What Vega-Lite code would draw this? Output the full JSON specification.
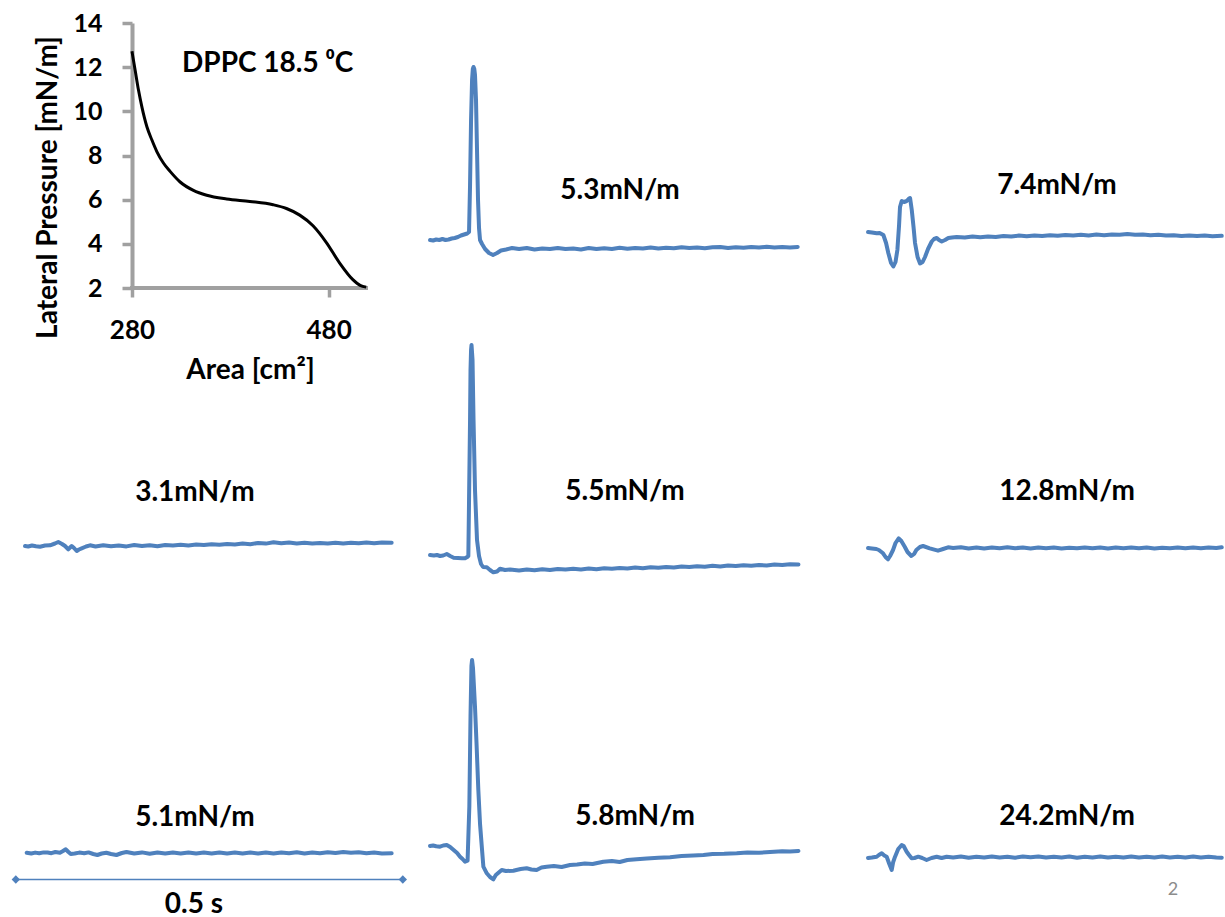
{
  "$schema": "https://vega.github.io/schema/vega-lite/v6.json",
  "background": "white",
  "padding": {"left": 9, "top": 11, "right": 0, "bottom": 0},
  "columns": 3,
  "bounds": "flush",
  "align": "each",
  "spacing": {"row": 10, "column": 16},
  "config": {"view": {"stroke": null}, "font": "Lato"},
  "datasets": {
    "iso": [
      {"area": 280, "pressure": 12.72}, {"area": 283.3, "pressure": 11.85}, {"area": 286.7, "pressure": 10.95},
      {"area": 290.1, "pressure": 10.2}, {"area": 295.2, "pressure": 9.3}, {"area": 300.3, "pressure": 8.7},
      {"area": 305.3, "pressure": 8.18}, {"area": 312, "pressure": 7.66}, {"area": 318.8, "pressure": 7.28},
      {"area": 329, "pressure": 6.8}, {"area": 342.5, "pressure": 6.42}, {"area": 356, "pressure": 6.2},
      {"area": 376.3, "pressure": 6.03}, {"area": 399.9, "pressure": 5.92}, {"area": 423.5, "pressure": 5.77},
      {"area": 437.1, "pressure": 5.6}, {"area": 450.6, "pressure": 5.3}, {"area": 464.1, "pressure": 4.82},
      {"area": 477.7, "pressure": 4.06}, {"area": 491.2, "pressure": 3.13}, {"area": 504.6, "pressure": 2.38},
      {"area": 512, "pressure": 2.12}, {"area": 518.2, "pressure": 2.04}
    ],
    "t53": [
      {"t":0,"v":0.07},{"t":4,"v":0.065},{"t":8,"v":0.075},{"t":12,"v":0.07},{"t":16,"v":0.08},{"t":20,"v":0.07},
      {"t":24,"v":0.075},{"t":28,"v":0.085},{"t":32,"v":0.09},{"t":36,"v":0.1},{"t":40,"v":0.115},{"t":44,"v":0.125},
      {"t":48,"v":0.135},{"t":50.4,"v":0.15},{"t":51.7,"v":0.62},{"t":53,"v":1.27},{"t":54.3,"v":1.67},{"t":55.3,"v":1.78},
      {"t":56.2,"v":1.8},{"t":57.2,"v":1.78},{"t":58.1,"v":1.72},{"t":59.4,"v":1.47},{"t":60.7,"v":0.97},{"t":62,"v":0.47},
      {"t":63.3,"v":0.19},{"t":64.6,"v":0.07},{"t":67.2,"v":0.03},{"t":71.1,"v":-0.02},{"t":76.2,"v":-0.06},{"t":81.4,"v":-0.08},
      {"t":86.6,"v":-0.06},{"t":91.7,"v":-0.035},{"t":98.2,"v":-0.025},{"t":105.9,"v":-0.01},
      {"t":115,"v":-0.02},{"t":125,"v":-0.01},{"t":135,"v":-0.025},{"t":145,"v":-0.015},{"t":155,"v":-0.02},{"t":165,"v":-0.01},
      {"t":175,"v":-0.02},{"t":185,"v":-0.015},{"t":195,"v":-0.025},{"t":205,"v":-0.01},{"t":215,"v":-0.02},{"t":225,"v":-0.012},
      {"t":235,"v":-0.02},{"t":245,"v":-0.008},{"t":255,"v":-0.018},{"t":265,"v":-0.01},{"t":275,"v":-0.015},{"t":285,"v":-0.005},
      {"t":295,"v":-0.015},{"t":305,"v":-0.008},{"t":315,"v":-0.012},{"t":325,"v":-0.002},{"t":335,"v":-0.01},{"t":345,"v":-0.004},
      {"t":355,"v":-0.012},{"t":365,"v":-0.003},{"t":375,"v":0.0},{"t":385,"v":-0.01},{"t":395,"v":-0.002},{"t":405,"v":-0.008},
      {"t":415,"v":0.0},{"t":425,"v":-0.006},{"t":435,"v":0.002},{"t":445,"v":-0.004},{"t":455,"v":-0.001},{"t":465,"v":-0.005},
      {"t":475,"v":0.0}
    ],
    "t74": [
      {"t":0,"v":0.04},{"t":5,"v":0.035},{"t":11.2,"v":0.027},{"t":15,"v":0.03},{"t":19.8,"v":0.01},{"t":23.3,"v":-0.07},
      {"t":26.2,"v":-0.17},{"t":29.7,"v":-0.27},{"t":32.7,"v":-0.305},{"t":35.5,"v":-0.26},{"t":37.9,"v":-0.14},{"t":40.1,"v":0.11},
      {"t":41.3,"v":0.29},{"t":43.5,"v":0.35},{"t":46.5,"v":0.34},{"t":50,"v":0.35},{"t":52.3,"v":0.37},{"t":54.3,"v":0.38},
      {"t":56.5,"v":0.26},{"t":58.9,"v":0.08},{"t":60.7,"v":-0.07},{"t":64,"v":-0.21},{"t":67.2,"v":-0.275},{"t":70.5,"v":-0.26},
      {"t":73.6,"v":-0.21},{"t":77.5,"v":-0.13},{"t":82.3,"v":-0.055},{"t":85.3,"v":-0.03},{"t":88.8,"v":-0.02},{"t":91.7,"v":-0.04},
      {"t":95.2,"v":-0.055},{"t":99.5,"v":-0.04},{"t":103.7,"v":-0.02},{"t":108.5,"v":-0.015},{"t":114.6,"v":-0.01},
      {"t":125,"v":-0.015},{"t":135,"v":-0.005},{"t":145,"v":-0.012},{"t":155,"v":-0.004},{"t":165,"v":-0.01},{"t":175,"v":0.0},
      {"t":185,"v":-0.006},{"t":195,"v":0.004},{"t":205,"v":-0.002},{"t":215,"v":0.006},{"t":225,"v":0.0},{"t":235,"v":0.008},
      {"t":245,"v":0.002},{"t":255,"v":0.01},{"t":265,"v":0.004},{"t":275,"v":0.012},{"t":285,"v":0.006},{"t":295,"v":0.014},
      {"t":305,"v":0.008},{"t":315,"v":0.016},{"t":325,"v":0.012},{"t":335,"v":0.02},{"t":345,"v":0.012},{"t":355,"v":0.016},
      {"t":365,"v":0.008},{"t":375,"v":0.012},{"t":385,"v":0.004},{"t":395,"v":0.008},{"t":405,"v":0.0},{"t":415,"v":0.006},
      {"t":425,"v":0.0},{"t":435,"v":0.004},{"t":445,"v":-0.002},{"t":457,"v":0.002}
    ],
    "t31": [
      {"t":3.9,"v":0.0},{"t":8,"v":-0.005},{"t":12.9,"v":0.005},{"t":18,"v":-0.003},{"t":23.3,"v":-0.007},{"t":29.7,"v":0.005},
      {"t":36.2,"v":0.007},{"t":42.6,"v":0.025},{"t":46.9,"v":0.04},{"t":51.7,"v":0.02},{"t":55.6,"v":0.0},{"t":59.8,"v":-0.033},
      {"t":64.2,"v":0.0},{"t":67.2,"v":-0.02},{"t":70.7,"v":-0.05},{"t":73.6,"v":-0.035},{"t":77.1,"v":-0.023},{"t":82.7,"v":-0.005},
      {"t":87.9,"v":0.007},{"t":95,"v":-0.005},{"t":105,"v":0.008},{"t":115,"v":-0.002},{"t":125,"v":0.006},{"t":135,"v":-0.004},
      {"t":145,"v":0.01},{"t":155,"v":0.0},{"t":165,"v":0.008},{"t":175,"v":-0.002},{"t":185,"v":0.01},{"t":195,"v":0.004},
      {"t":205,"v":0.012},{"t":215,"v":0.006},{"t":225,"v":0.014},{"t":235,"v":0.01},{"t":245,"v":0.018},{"t":255,"v":0.012},
      {"t":265,"v":0.02},{"t":275,"v":0.015},{"t":285,"v":0.024},{"t":295,"v":0.018},{"t":305,"v":0.03},{"t":315,"v":0.024},
      {"t":325,"v":0.038},{"t":335,"v":0.028},{"t":345,"v":0.034},{"t":355,"v":0.026},{"t":365,"v":0.032},{"t":375,"v":0.024},
      {"t":385,"v":0.03},{"t":395,"v":0.025},{"t":405,"v":0.033},{"t":415,"v":0.026},{"t":425,"v":0.032},{"t":435,"v":0.027},
      {"t":445,"v":0.035},{"t":455,"v":0.028},{"t":465,"v":0.036},{"t":477.6,"v":0.033}
    ],
    "t55": [
      {"t":0,"v":0.15},{"t":5,"v":0.145},{"t":9,"v":0.15},{"t":13,"v":0.14},{"t":17,"v":0.145},{"t":21.6,"v":0.16},
      {"t":26,"v":0.14},{"t":30.5,"v":0.123},{"t":36,"v":0.12},{"t":41,"v":0.118},{"t":45.2,"v":0.117},{"t":48.7,"v":0.133},
      {"t":49.5,"v":0.14},{"t":50.4,"v":0.7},{"t":51.7,"v":1.5},{"t":52.3,"v":2.0},{"t":53,"v":2.2},{"t":53.6,"v":2.25},
      {"t":54.9,"v":2.1},{"t":56.2,"v":1.5},{"t":58.1,"v":0.8},{"t":60.7,"v":0.3},{"t":63.3,"v":0.14},{"t":65.9,"v":0.06},
      {"t":68.5,"v":0.03},{"t":73.3,"v":0.027},{"t":77.5,"v":0.0},{"t":81.8,"v":-0.023},{"t":86.6,"v":-0.015},{"t":90.4,"v":0.013},
      {"t":96.9,"v":0.0},{"t":103.4,"v":0.005},
      {"t":115,"v":-0.005},{"t":125,"v":0.004},{"t":135,"v":-0.002},{"t":145,"v":0.008},{"t":155,"v":0.0},{"t":165,"v":0.01},
      {"t":175,"v":0.004},{"t":185,"v":0.012},{"t":195,"v":0.006},{"t":205,"v":0.014},{"t":215,"v":0.008},{"t":225,"v":0.018},
      {"t":235,"v":0.012},{"t":245,"v":0.02},{"t":255,"v":0.016},{"t":265,"v":0.024},{"t":275,"v":0.018},{"t":285,"v":0.028},
      {"t":295,"v":0.022},{"t":305,"v":0.03},{"t":315,"v":0.025},{"t":325,"v":0.034},{"t":335,"v":0.03},{"t":345,"v":0.038},
      {"t":355,"v":0.032},{"t":365,"v":0.042},{"t":375,"v":0.036},{"t":385,"v":0.044},{"t":395,"v":0.04},{"t":405,"v":0.048},
      {"t":415,"v":0.042},{"t":425,"v":0.05},{"t":435,"v":0.046},{"t":445,"v":0.054},{"t":455,"v":0.05},{"t":465,"v":0.058},
      {"t":476,"v":0.055}
    ],
    "t128": [
      {"t":0,"v":0.0},{"t":5,"v":-0.005},{"t":10.7,"v":-0.01},{"t":14,"v":-0.02},{"t":19.4,"v":-0.053},{"t":22.6,"v":-0.09},
      {"t":25.8,"v":-0.113},{"t":28.5,"v":-0.08},{"t":32.3,"v":-0.02},{"t":35.5,"v":0.05},{"t":39.6,"v":0.097},{"t":43,"v":0.07},
      {"t":47.4,"v":0.013},{"t":51,"v":-0.04},{"t":56,"v":-0.08},{"t":59.5,"v":-0.06},{"t":62.4,"v":-0.02},{"t":67,"v":0.01},
      {"t":71.1,"v":0.02},{"t":79.7,"v":-0.003},{"t":90.4,"v":-0.027},{"t":97,"v":-0.01},{"t":103.4,"v":0.007},
      {"t":110,"v":0.0},{"t":120,"v":0.008},{"t":130,"v":-0.004},{"t":140,"v":0.006},{"t":150,"v":-0.006},{"t":160,"v":0.004},
      {"t":170,"v":-0.003},{"t":180,"v":0.007},{"t":190,"v":-0.002},{"t":200,"v":0.005},{"t":210,"v":-0.005},{"t":220,"v":0.004},
      {"t":230,"v":-0.002},{"t":240,"v":0.006},{"t":250,"v":-0.004},{"t":260,"v":0.003},{"t":270,"v":-0.003},{"t":280,"v":0.005},
      {"t":290,"v":-0.002},{"t":300,"v":0.006},{"t":310,"v":-0.004},{"t":320,"v":0.004},{"t":330,"v":-0.002},{"t":340,"v":0.005},
      {"t":350,"v":-0.003},{"t":360,"v":0.004},{"t":370,"v":-0.004},{"t":380,"v":0.003},{"t":390,"v":-0.002},{"t":400,"v":0.005},
      {"t":410,"v":-0.003},{"t":420,"v":0.004},{"t":430,"v":-0.002},{"t":440,"v":0.005},{"t":450,"v":0.0},{"t":457,"v":0.007}
    ],
    "t51": [
      {"t":6.1,"v":0.003},{"t":12,"v":-0.005},{"t":17,"v":0.004},{"t":22.3,"v":-0.003},{"t":28,"v":0.006},{"t":33,"v":0.005},
      {"t":38,"v":-0.002},{"t":43.1,"v":0.01},{"t":49,"v":0.003},{"t":53,"v":0.02},{"t":56.6,"v":0.037},{"t":60,"v":0.01},
      {"t":63,"v":-0.01},{"t":68,"v":-0.005},{"t":74,"v":0.004},{"t":80.4,"v":-0.003},{"t":86,"v":0.006},{"t":92,"v":-0.01},
      {"t":97.4,"v":-0.02},{"t":103,"v":-0.005},{"t":109,"v":0.003},{"t":115,"v":-0.01},{"t":122,"v":-0.02},{"t":129,"v":0.0},
      {"t":135,"v":0.01},{"t":145,"v":-0.005},{"t":155,"v":0.006},{"t":165,"v":-0.008},{"t":175,"v":0.004},{"t":185,"v":-0.006},
      {"t":195,"v":0.005},{"t":205,"v":-0.004},{"t":215,"v":0.006},{"t":225,"v":-0.006},{"t":235,"v":0.004},{"t":245,"v":-0.005},
      {"t":255,"v":0.006},{"t":265,"v":-0.004},{"t":275,"v":0.005},{"t":285,"v":-0.006},{"t":295,"v":0.004},{"t":305,"v":-0.004},
      {"t":315,"v":0.006},{"t":325,"v":-0.005},{"t":335,"v":0.005},{"t":345,"v":-0.003},{"t":355,"v":0.007},{"t":365,"v":-0.004},
      {"t":375,"v":0.006},{"t":385,"v":-0.002},{"t":395,"v":0.008},{"t":405,"v":0.0},{"t":415,"v":0.01},{"t":425,"v":0.002},
      {"t":435,"v":0.008},{"t":445,"v":-0.002},{"t":455,"v":0.006},{"t":465,"v":-0.004},{"t":477.6,"v":-0.003}
    ],
    "t58": [
      {"t":0,"v":0.0},{"t":4,"v":0.005},{"t":8,"v":-0.003},{"t":12.9,"v":-0.007},{"t":17,"v":0.005},{"t":21.6,"v":0.01},
      {"t":26,"v":-0.01},{"t":30.5,"v":-0.04},{"t":35,"v":-0.07},{"t":38.8,"v":-0.107},{"t":42,"v":-0.13},{"t":45.2,"v":-0.157},
      {"t":48.5,"v":-0.147},{"t":50.8,"v":0.4},{"t":52.3,"v":1.3},{"t":53.5,"v":1.8},{"t":54.3,"v":1.86},{"t":55.5,"v":1.78},
      {"t":58.1,"v":1.39},{"t":60.2,"v":1.0},{"t":62.4,"v":0.56},{"t":64.6,"v":0.22},{"t":66.8,"v":0.0},{"t":68.9,"v":-0.207},
      {"t":73.3,"v":-0.273},{"t":77.5,"v":-0.31},{"t":81.8,"v":-0.333},{"t":85,"v":-0.29},{"t":92.6,"v":-0.24},{"t":98,"v":-0.25},
      {"t":107.6,"v":-0.247},{"t":117,"v":-0.23},{"t":124.8,"v":-0.223},{"t":131,"v":-0.235},{"t":137.7,"v":-0.24},{"t":144,"v":-0.215},
      {"t":150.7,"v":-0.207},{"t":160,"v":-0.2},{"t":170,"v":-0.21},{"t":180.9,"v":-0.19},{"t":190,"v":-0.185},{"t":200,"v":-0.175},
      {"t":210,"v":-0.18},{"t":223.9,"v":-0.157},{"t":235,"v":-0.15},{"t":245,"v":-0.16},{"t":255,"v":-0.14},{"t":266.9,"v":-0.133},
      {"t":280,"v":-0.125},{"t":295,"v":-0.118},{"t":310.1,"v":-0.113},{"t":325,"v":-0.1},{"t":340,"v":-0.095},{"t":353.2,"v":-0.09},
      {"t":365,"v":-0.08},{"t":380,"v":-0.078},{"t":396.2,"v":-0.073},{"t":410,"v":-0.065},{"t":425,"v":-0.068},{"t":439.3,"v":-0.06},
      {"t":455,"v":-0.052},{"t":465,"v":-0.055},{"t":476,"v":-0.05}
    ],
    "t242": [
      {"t":0,"v":-0.01},{"t":5,"v":-0.005},{"t":11.2,"v":0.003},{"t":14,"v":0.02},{"t":17.7,"v":0.037},{"t":21,"v":0.015},
      {"t":24.1,"v":0.003},{"t":27.5,"v":-0.07},{"t":30.6,"v":-0.13},{"t":32.5,"v":-0.05},{"t":34.9,"v":0.003},{"t":39,"v":0.08},
      {"t":43.5,"v":0.12},{"t":46,"v":0.11},{"t":49.9,"v":0.053},{"t":53,"v":0.02},{"t":56.3,"v":-0.013},{"t":60,"v":-0.01},
      {"t":64.9,"v":0.003},{"t":70,"v":-0.01},{"t":75.7,"v":-0.03},{"t":82,"v":-0.01},{"t":88.6,"v":0.003},{"t":95,"v":-0.01},
      {"t":101.5,"v":0.003},{"t":110,"v":-0.006},{"t":120,"v":0.004},{"t":130,"v":-0.008},{"t":140,"v":0.003},{"t":150,"v":-0.004},
      {"t":160,"v":0.006},{"t":170,"v":-0.005},{"t":180,"v":0.002},{"t":190,"v":-0.007},{"t":200,"v":0.004},{"t":210,"v":-0.003},
      {"t":220,"v":0.005},{"t":230,"v":-0.006},{"t":240,"v":0.002},{"t":250,"v":-0.005},{"t":260,"v":0.004},{"t":270,"v":-0.007},
      {"t":280,"v":0.003},{"t":290,"v":-0.004},{"t":300,"v":0.005},{"t":310,"v":-0.006},{"t":320,"v":0.002},{"t":330,"v":-0.005},
      {"t":340,"v":0.004},{"t":350,"v":-0.006},{"t":360,"v":0.003},{"t":370,"v":-0.004},{"t":380,"v":0.005},{"t":390,"v":-0.006},
      {"t":400,"v":0.002},{"t":410,"v":-0.005},{"t":420,"v":0.004},{"t":430,"v":-0.006},{"t":440,"v":0.003},{"t":450,"v":-0.004},
      {"t":457,"v":-0.007}
    ]
  },
  "concat": [
    {
      "width": 359,
      "height": 265,
      "encoding": {
        "x": {"field": "area", "type": "quantitative",
          "scale": {"domain": [155, 520], "nice": false, "zero": false},
          "axis": {"values": [280, 480], "domain": false, "grid": false, "tickSize": 9, "tickWidth": 3.5, "tickColor": "#a0a0a0",
            "labelFont": "Lato", "labelFontSize": 26, "labelFontWeight": "bold", "labelColor": "black", "labelPadding": 20, "labelFlush": false,
            "title": "Area [cm²]", "titleFont": "Lato", "titleFontSize": 28, "titleFontWeight": "bold", "titleColor": "black",
            "titleX": 241, "titleY": 68, "titleBaseline": "top"}},
        "y": {"field": "pressure", "type": "quantitative",
          "scale": {"domain": [2, 14], "nice": false, "zero": false},
          "axis": {"offset": -123, "values": [2, 4, 6, 8, 10, 12, 14], "grid": false, "domainColor": "#a0a0a0", "domainWidth": 4,
            "tickSize": 10, "tickWidth": 3.5, "tickColor": "#a0a0a0",
            "labelFont": "Lato", "labelFontSize": 25, "labelFontWeight": "bold", "labelColor": "black", "labelPadding": 20, "labelFlush": false,
            "title": "Lateral Pressure [mN/m]", "titleFont": "Lato", "titleFontSize": 28, "titleFontWeight": "bold", "titleColor": "black",
            "titlePadding": 10, "titleY": 164}}
      },
      "layer": [
        {"data": {"values": [{"a0": 278, "a1": 520, "p": 2}]},
         "mark": {"type": "rule", "color": "#a0a0a0", "strokeWidth": 4},
         "encoding": {"x": {"field": "a0", "type": "quantitative"}, "x2": {"field": "a1"}, "y": {"field": "p", "type": "quantitative"}}},
        {"data": {"name": "iso"}, "mark": {"type": "line", "color": "black", "strokeWidth": 3, "interpolate": "monotone"}},
        {"data": {"values": [{"label": "DPPC 18.5 ⁰C", "area": 418, "pressure": 12.14}]},
         "mark": {"type": "text", "font": "Lato", "fontSize": 28, "fontWeight": "bold", "color": "black", "align": "center", "baseline": "middle"},
         "encoding": {"text": {"field": "label"}}}
      ]
    },
    {
      "width": 421, "height": 265,
      "encoding": {
        "x": {"field": "t", "type": "quantitative", "scale": {"domain": [-6.5, 537.4], "nice": false, "zero": false}, "axis": null},
        "y": {"field": "v", "type": "quantitative", "scale": {"domain": [-0.41, 2.24], "nice": false, "zero": false}, "axis": null}
      },
      "layer": [
        {"data": {"name": "t53"}, "mark": {"type": "line", "color": "#4f81bd", "strokeWidth": 4, "strokeJoin": "round", "strokeCap": "round"}},
        {"data": {"values": [{"label": "5.3mN/m", "t": 245.5, "v": 0.56}]},
         "mark": {"type": "text", "font": "Lato", "fontSize": 28, "fontWeight": "bold", "color": "black", "align": "center", "baseline": "middle"},
         "encoding": {"text": {"field": "label"}}}
      ]
    },
    {
      "width": 360, "height": 265,
      "encoding": {
        "x": {"field": "t", "type": "quantitative", "scale": {"domain": [-7.8, 457.3], "nice": false, "zero": false}, "axis": null},
        "y": {"field": "v", "type": "quantitative", "scale": {"domain": [-0.52, 2.13], "nice": false, "zero": false}, "axis": null}
      },
      "layer": [
        {"data": {"name": "t74"}, "mark": {"type": "line", "color": "#4f81bd", "strokeWidth": 4, "strokeJoin": "round", "strokeCap": "round"}},
        {"data": {"values": [{"label": "7.4mN/m", "t": 244.2, "v": 0.5}]},
         "mark": {"type": "text", "font": "Lato", "fontSize": 28, "fontWeight": "bold", "color": "black", "align": "center", "baseline": "middle"},
         "encoding": {"text": {"field": "label"}}}
      ]
    },
    {
      "width": 400, "height": 327,
      "encoding": {
        "x": {"field": "t", "type": "quantitative", "scale": {"domain": [-16.8, 500], "nice": false, "zero": false}, "axis": null},
        "y": {"field": "v", "type": "quantitative", "scale": {"domain": [-0.79, 2.48], "nice": false, "zero": false}, "axis": null}
      },
      "layer": [
        {"data": {"name": "t31"}, "mark": {"type": "line", "color": "#4f81bd", "strokeWidth": 4, "strokeJoin": "round", "strokeCap": "round"}},
        {"data": {"values": [{"label": "3.1mN/m", "t": 223.5, "v": 0.53}]},
         "mark": {"type": "text", "font": "Lato", "fontSize": 28, "fontWeight": "bold", "color": "black", "align": "center", "baseline": "middle"},
         "encoding": {"text": {"field": "label"}}}
      ]
    },
    {
      "width": 421, "height": 327,
      "encoding": {
        "x": {"field": "t", "type": "quantitative", "scale": {"domain": [-6.5, 537.4], "nice": false, "zero": false}, "axis": null},
        "y": {"field": "v", "type": "quantitative", "scale": {"domain": [-0.55, 2.72], "nice": false, "zero": false}, "axis": null}
      },
      "layer": [
        {"data": {"name": "t55"}, "mark": {"type": "line", "color": "#4f81bd", "strokeWidth": 4, "strokeJoin": "round", "strokeCap": "round"}},
        {"data": {"values": [{"label": "5.5mN/m", "t": 251.9, "v": 0.78}]},
         "mark": {"type": "text", "font": "Lato", "fontSize": 28, "fontWeight": "bold", "color": "black", "align": "center", "baseline": "middle"},
         "encoding": {"text": {"field": "label"}}}
      ]
    },
    {
      "width": 360, "height": 327,
      "encoding": {
        "x": {"field": "t", "type": "quantitative", "scale": {"domain": [-7.8, 457.3], "nice": false, "zero": false}, "axis": null},
        "y": {"field": "v", "type": "quantitative", "scale": {"domain": [-0.77, 2.5], "nice": false, "zero": false}, "axis": null}
      },
      "layer": [
        {"data": {"name": "t128"}, "mark": {"type": "line", "color": "#4f81bd", "strokeWidth": 4, "strokeJoin": "round", "strokeCap": "round"}},
        {"data": {"values": [{"label": "12.8mN/m", "t": 257.1, "v": 0.56}]},
         "mark": {"type": "text", "font": "Lato", "fontSize": 28, "fontWeight": "bold", "color": "black", "align": "center", "baseline": "middle"},
         "encoding": {"text": {"field": "label"}}}
      ]
    },
    {
      "width": 400, "height": 280,
      "encoding": {
        "x": {"field": "t", "type": "quantitative", "scale": {"domain": [-16.8, 500], "nice": false, "zero": false}, "axis": null},
        "y": {"field": "v", "type": "quantitative", "scale": {"domain": [-0.62, 2.18], "nice": false, "zero": false}, "axis": null}
      },
      "layer": [
        {"data": {"name": "t51"}, "mark": {"type": "line", "color": "#4f81bd", "strokeWidth": 4, "strokeJoin": "round", "strokeCap": "round"}},
        {"data": {"values": [{"t": -8, "v": -0.265}, {"t": 492, "v": -0.265}]},
         "mark": {"type": "line", "color": "#4f81bd", "strokeWidth": 1.5, "point": {"shape": "diamond", "size": 70, "filled": true, "color": "#4f81bd", "opacity": 1}}},
        {"data": {"values": [{"label": "5.1mN/m", "t": 223.5, "v": 0.35}, {"label": "0.5 s", "t": 222.2, "v": -0.52}]},
         "mark": {"type": "text", "font": "Lato", "fontSize": 28, "fontWeight": "bold", "color": "black", "align": "center", "baseline": "middle"},
         "encoding": {"text": {"field": "label"}}}
      ]
    },
    {
      "width": 421, "height": 280,
      "encoding": {
        "x": {"field": "t", "type": "quantitative", "scale": {"domain": [-6.5, 537.4], "nice": false, "zero": false}, "axis": null},
        "y": {"field": "v", "type": "quantitative", "scale": {"domain": [-0.69, 2.11], "nice": false, "zero": false}, "axis": null}
      },
      "layer": [
        {"data": {"name": "t58"}, "mark": {"type": "line", "color": "#4f81bd", "strokeWidth": 4, "strokeJoin": "round", "strokeCap": "round"}},
        {"data": {"values": [{"label": "5.8mN/m", "t": 264.9, "v": 0.29}]},
         "mark": {"type": "text", "font": "Lato", "fontSize": 28, "fontWeight": "bold", "color": "black", "align": "center", "baseline": "middle"},
         "encoding": {"text": {"field": "label"}}}
      ]
    },
    {
      "width": 360, "height": 280,
      "encoding": {
        "x": {"field": "t", "type": "quantitative", "scale": {"domain": [-7.8, 457.3], "nice": false, "zero": false}, "axis": null},
        "y": {"field": "v", "type": "quantitative", "scale": {"domain": [-0.58, 2.22], "nice": false, "zero": false}, "axis": null}
      },
      "layer": [
        {"data": {"name": "t242"}, "mark": {"type": "line", "color": "#4f81bd", "strokeWidth": 4, "strokeJoin": "round", "strokeCap": "round"}},
        {"data": {"values": [{"label": "24.2mN/m", "t": 257.1, "v": 0.4}]},
         "mark": {"type": "text", "font": "Lato", "fontSize": 28, "fontWeight": "bold", "color": "black", "align": "center", "baseline": "middle"},
         "encoding": {"text": {"field": "label"}}},
        {"data": {"values": [{"label": "2", "t": 394, "v": -0.33}]},
         "mark": {"type": "text", "font": "Lato", "fontSize": 18, "color": "#8c8c8c", "align": "center", "baseline": "middle"},
         "encoding": {"text": {"field": "label"}}}
      ]
    }
  ]
}
